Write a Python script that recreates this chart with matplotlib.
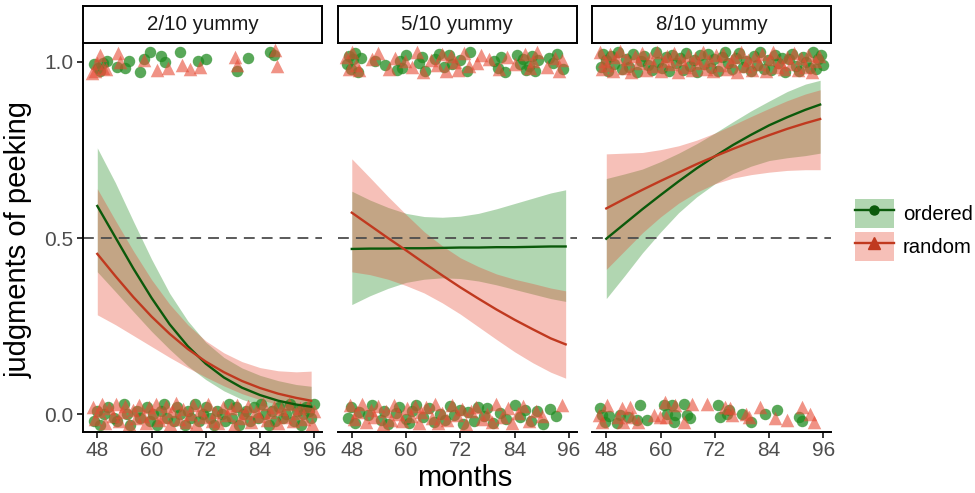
import matplotlib
matplotlib.use("Agg")
import matplotlib.pyplot as plt
from matplotlib.patches import Patch
from matplotlib.lines import Line2D

plt.rcParams['font.family'] = ['Liberation Sans', 'DejaVu Sans']

panels = ["2/10 yummy", "5/10 yummy", "8/10 yummy"]
conds = ["ordered", "random"]

# model fit (probability of "peeking" judgment) on a month grid, one row per panel
months = [48, 52, 56, 60, 64, 68, 72, 76, 80, 84, 88, 92, 95.3]

ord_fit = [
    [0.591, 0.502, 0.413, 0.330, 0.255, 0.193, 0.143, 0.104, 0.075, 0.054, 0.038, 0.027, 0.021],
    [0.469, 0.470, 0.470, 0.471, 0.471, 0.472, 0.473, 0.473, 0.474, 0.474, 0.475, 0.476, 0.476],
    [0.498, 0.540, 0.582, 0.622, 0.661, 0.698, 0.732, 0.764, 0.793, 0.820, 0.843, 0.864, 0.879],
]
ord_lo = [
    [0.404, 0.348, 0.291, 0.235, 0.184, 0.137, 0.098, 0.066, 0.042, 0.025, 0.015, 0.008, 0.005],
    [0.311, 0.336, 0.357, 0.374, 0.383, 0.387, 0.385, 0.378, 0.367, 0.354, 0.341, 0.328, 0.320],
    [0.328, 0.392, 0.458, 0.517, 0.572, 0.617, 0.654, 0.683, 0.704, 0.720, 0.728, 0.734, 0.741],
]
ord_hi = [
    [0.756, 0.657, 0.547, 0.440, 0.343, 0.265, 0.204, 0.161, 0.131, 0.110, 0.095, 0.084, 0.079],
    [0.633, 0.608, 0.587, 0.570, 0.561, 0.559, 0.562, 0.570, 0.583, 0.598, 0.613, 0.628, 0.637],
    [0.669, 0.682, 0.696, 0.717, 0.741, 0.768, 0.798, 0.830, 0.861, 0.889, 0.916, 0.937, 0.948],
]
rnd_fit = [
    [0.455, 0.392, 0.332, 0.277, 0.228, 0.185, 0.149, 0.119, 0.094, 0.074, 0.058, 0.046, 0.038],
    [0.572, 0.536, 0.500, 0.465, 0.429, 0.394, 0.360, 0.328, 0.297, 0.268, 0.241, 0.215, 0.198],
    [0.584, 0.611, 0.637, 0.662, 0.686, 0.710, 0.732, 0.753, 0.773, 0.792, 0.810, 0.826, 0.838],
]
rnd_lo = [
    [0.282, 0.254, 0.223, 0.192, 0.161, 0.132, 0.105, 0.080, 0.058, 0.041, 0.027, 0.017, 0.012],
    [0.404, 0.396, 0.383, 0.365, 0.344, 0.316, 0.284, 0.248, 0.212, 0.177, 0.146, 0.119, 0.102],
    [0.411, 0.463, 0.515, 0.560, 0.599, 0.630, 0.654, 0.670, 0.680, 0.687, 0.692, 0.694, 0.694],
]
rnd_hi = [
    [0.640, 0.550, 0.463, 0.382, 0.312, 0.254, 0.208, 0.174, 0.149, 0.132, 0.123, 0.120, 0.122],
    [0.725, 0.672, 0.618, 0.567, 0.518, 0.478, 0.444, 0.419, 0.398, 0.383, 0.371, 0.358, 0.350],
    [0.739, 0.741, 0.743, 0.751, 0.762, 0.778, 0.798, 0.821, 0.845, 0.868, 0.890, 0.909, 0.921],
]

# raw responses (jittered): x = age in months, dy = vertical jitter in hundredths
ord_top_x = [
    [47.3, 48.2, 48.6, 49.3, 50.2, 52.3, 54.1, 55.0, 57.4, 58.3, 59.7, 62.2, 63.0, 66.3, 70.2, 72.0,
     78.8, 81.4, 86.1, 87.1],
    [46.9, 47.3, 47.8, 48.2, 48.7, 49.4, 50.1, 53.2, 55.4, 57.9, 58.6, 59.2, 60.1, 62.8, 63.5, 64.3,
     66.5, 67.2, 68.3, 69.5, 70.2, 72.0, 73.4, 74.1, 79.4, 80.3, 81.0, 81.8, 84.6, 85.3, 85.9, 86.5,
     87.1, 87.8, 88.5, 89.2, 91.6, 92.4, 93.3, 94.8],
    [46.8, 47.3, 47.9, 48.4, 49.1, 49.8, 50.6, 51.5, 52.3, 53.0, 53.8, 54.9, 55.7, 56.4, 57.2, 58.0,
     58.9, 59.5, 60.3, 61.1, 61.8, 62.6, 63.5, 64.2, 65.0, 65.7, 66.5, 67.3, 68.1, 68.8, 69.6, 70.4,
     71.1, 71.9, 72.7, 73.5, 74.2, 75.0, 75.8, 76.7, 77.4, 78.2, 79.0, 79.9, 80.6, 81.4, 82.1, 82.9,
     83.7, 84.5, 85.3, 86.0, 86.8, 87.6, 88.4, 89.1, 89.9, 90.7, 91.4, 92.2, 93.0, 93.7, 94.3, 94.9,
     95.4, 95.9],
]
ord_top_dy = [
    [-0.6, -1.8, -2.5, -0.4, 0.3, -1.3, -1.6, 0.4, -2.8, 0.8, 2.8, 1.8, -0.1, 2.8, 0.3, 0.8,
     -2.5, 1.2, 2.9, 2.0],
    [-0.5, 1.8, -2.1, 0.9, 2.6, -2.8, 1.2, 0.3, -0.9, -2.2, 0.4, -1.7, 2.0, -0.3, 1.5, -2.5,
     0.8, 2.3, -1.3, 1.9, -0.7, 0.6, -2.6, 2.8, 0.2, -1.6, 1.4, -2.9, 2.1, -0.6, 0.9, -2.3,
     -1.2, 1.6, -2.7, 0.5, 1.2, -0.4, 2.2, -2.0],
    [-1.3, 2.4, 0.6, -2.7, 1.8, -0.5, 2.9, -2.0, 0.9, -1.5, 2.2, -2.8, 0.3, 1.6, -0.9, -2.4,
     2.7, 0.0, -1.8, 1.3, -2.6, 2.0, -0.2, 1.0, -2.2, 2.6, -1.1, 0.5, -2.9, 1.9, -0.6, 2.3,
     -1.7, 0.8, -2.5, 1.4, 2.8, -0.3, -2.1, 1.1, 2.5, -1.4, 0.2, -2.7, 1.7, -0.8, 2.9, -1.9,
     0.6, -2.3, 2.1, -0.4, 1.2, -2.8, 0.9, 2.4, -1.2, -2.6, 1.5, 0.1, -1.6, 2.7, -2.0, 0.7,
     1.9, -0.9],
]
ord_bot_x = [
    [47.2, 47.9, 48.6, 49.5, 50.3, 51.8, 52.4, 53.9, 54.6, 55.3, 56.8, 57.5, 58.9, 59.6, 60.4, 61.2,
     62.0, 62.7, 63.5, 64.9, 65.6, 66.3, 67.4, 68.0, 68.8, 69.7, 70.5, 71.3, 72.1, 73.0, 73.8, 74.5,
     75.6, 76.2, 77.1, 77.9, 78.6, 79.4, 80.3, 81.0, 81.8, 82.7, 83.5, 84.2, 85.0, 85.9, 86.6, 87.4,
     88.3, 89.1, 89.8, 90.7, 91.5, 92.2, 93.0, 93.6, 94.1, 94.8, 95.3, 95.9],
    [47.1, 47.9, 48.8, 49.7, 51.6, 52.5, 54.4, 55.2, 56.0, 57.7, 58.5, 59.9, 60.6, 61.4, 62.3, 63.7,
     65.0, 66.2, 67.5, 68.6, 69.8, 70.7, 71.9, 72.6, 73.8, 75.1, 76.0, 77.3, 78.0, 79.2, 80.8, 82.0,
     84.0, 85.1, 86.3, 87.6, 89.0, 90.4, 91.9, 93.1],
    [46.7, 47.1, 47.8, 48.5, 50.4, 51.1, 52.9, 54.8, 55.5, 57.0, 60.7, 61.4, 62.5, 63.3, 62.9, 65.1,
     65.8, 66.6, 72.8, 73.2, 74.7, 75.1, 78.0, 79.9, 83.2, 85.8, 90.6, 91.3],
]
ord_bot_dy = [
    [-2.0, 1.0, -3.0, 0.0, 2.0, -1.0, -2.0, 3.0, 0.0, -3.0, 1.0, -1.0, 2.0, -2.0, 0.0, -3.0,
     1.0, 3.0, -1.0, -2.0, 2.0, 0.0, -3.0, 1.0, -1.0, 3.0, -2.0, 0.0, 2.0, -1.0, -3.0, 1.0,
     0.0, -2.0, 3.0, -1.0, 2.0, -3.0, 0.0, 1.0, -2.0, 2.0, -1.0, 3.0, 0.0, -3.0, 1.0, -2.0,
     2.0, -1.0, 0.0, 3.0, -2.0, 1.0, -3.0, 0.0, 2.0, 1.0, -1.0, 3.0],
    [-1.1, 1.9, -2.4, 0.7, -0.2, 2.5, -1.8, 1.0, -2.9, 0.4, 2.1, -1.4, -2.6, 0.9, 2.7, -0.9,
     1.6, -2.2, 0.1, -1.6, 2.4, -0.3, 1.3, -2.8, 0.6, -1.9, 2.0, -0.6, 1.8, -2.5, 0.2, -1.3,
     2.6, -0.8, 1.1, -2.1, 0.8, -2.7, 1.5, -0.4],
    [1.6, -0.3, -2.2, -0.6, -2.5, -0.3, -0.8, -1.7, 2.6, -1.7, 2.6, 0.1, 2.6, -0.3, -2.2, 3.0,
     -0.3, -1.0, 2.6, -0.8, 0.1, 1.1, 0.1, -2.2, 0.0, 1.1, -0.8, -1.9],
]
rnd_top_x = [
    [47.5, 48.6, 47.9, 49.3, 49.9, 52.6, 53.0, 58.3, 61.1, 63.7, 66.7, 68.5, 70.7, 78.5, 78.8, 87.3,
     87.7, 46.8],
    [46.8, 47.4, 48.0, 48.9, 49.6, 52.4, 53.9, 56.2, 57.6, 59.8, 61.3, 62.5, 63.8, 65.6, 66.9, 67.9,
     68.8, 69.9, 70.9, 71.6, 72.8, 73.9, 75.8, 76.5, 78.4, 80.6, 82.3, 84.2, 86.2, 87.4, 88.1, 88.9,
     91.1, 92.9, 93.8, 94.6],
    [46.5, 47.0, 47.6, 48.2, 48.8, 49.5, 50.2, 51.0, 51.9, 52.6, 53.4, 54.3, 55.1, 56.0, 56.8, 57.6,
     58.4, 59.2, 60.0, 60.8, 61.5, 62.3, 63.0, 63.8, 64.6, 65.3, 66.1, 66.9, 67.7, 68.5, 69.3, 70.0,
     70.8, 71.6, 72.3, 73.1, 73.9, 74.7, 75.5, 76.3, 77.0, 77.8, 78.6, 79.4, 80.2, 81.0, 81.7, 82.5,
     83.3, 84.1, 84.9, 85.7, 86.4, 87.2, 88.0, 88.8, 89.6, 90.3, 91.1, 91.9, 92.6, 93.4, 94.1, 95.0],
]
rnd_top_dy = [
    [-2.7, 2.0, -0.4, -1.8, -2.1, 2.5, 0.1, 0.6, -2.3, -1.8, -0.9, -2.1, -1.3, 1.5, -0.9, 3.4,
     -1.1, -3.0],
    [1.4, -1.9, 2.9, -0.8, -2.4, 0.7, 2.5, -2.0, 1.1, 0.2, -1.5, 2.7, -2.8, 0.6, -1.0, 2.2,
     -2.6, 1.7, 0.0, -2.3, 2.6, -1.2, -0.4, 1.9, 0.8, -2.1, 1.5, -0.6, 2.4, -1.8, 0.3, 2.9,
     -1.4, 1.0, -2.5, 0.5],
    [2.8, -2.1, 0.4, -0.9, 2.2, -2.7, 1.3, 3.0, -1.6, 0.7, -2.9, 1.8, -0.3, 2.5, -2.2, 1.0,
     -1.1, 2.9, -2.5, 0.2, 1.6, -0.7, 2.6, -2.8, 0.9, -1.4, 2.0, -2.4, 1.2, -0.2, 2.8, -1.9,
     0.5, -2.6, 1.9, -0.8, 2.4, -2.1, 0.3, 1.4, -2.9, 2.7, -1.2, 0.6, -2.3, 1.7, -0.5, 2.3,
     -2.7, 0.8, 2.9, -1.5, 0.1, -2.0, 1.5, -0.6, 2.6, -2.4, 1.1, -1.3, 2.1, -2.8, 0.4, 1.8],
]
rnd_bot_x = [
    [47.0, 47.6, 48.3, 49.0, 49.8, 50.7, 51.4, 52.1, 52.9, 53.4, 54.2, 55.0, 55.9, 56.5, 57.2, 58.1,
     58.7, 59.4, 60.2, 61.0, 61.7, 62.5, 63.2, 64.0, 64.6, 65.4, 66.1, 66.9, 67.7, 68.4, 69.2, 69.9,
     70.8, 71.6, 72.5, 73.3, 74.0, 74.8, 75.9, 76.6, 77.5, 78.2, 79.0, 79.8, 80.6, 81.4, 82.1, 83.0,
     83.8, 84.6, 85.5, 86.2, 87.0, 87.9, 88.7, 89.5, 90.3, 91.2, 92.0, 92.8, 93.7, 94.5, 95.4, 96.0],
    [47.5, 48.4, 49.2, 50.3, 51.1, 52.2, 53.0, 53.7, 54.8, 55.6, 56.7, 57.3, 58.2, 59.1, 60.3, 61.0,
     61.9, 62.8, 63.4, 64.5, 65.7, 66.4, 67.1, 68.0, 69.1, 70.1, 71.2, 72.3, 73.2, 74.4, 75.5, 76.9,
     77.8, 79.0, 80.0, 81.3, 82.6, 83.4, 84.8, 85.8, 87.3, 88.8, 90.0, 94.6],
    [48.2, 47.1, 51.5, 53.3, 53.7, 55.1, 58.5, 61.0, 61.1, 63.3, 65.1, 67.0, 70.3, 74.3, 75.4, 75.8,
     78.8, 79.5, 82.1, 85.4, 88.0, 91.3, 93.1, 93.9, 51.8, 50.7, 59.9, 46.3],
]
rnd_bot_dy = [
    [2.1, -1.5, 0.8, 2.9, -2.6, 1.7, -0.4, 3.0, -2.0, 0.5, 2.4, -2.9, 1.1, -1.2, 2.7, -0.6,
     -2.4, 1.9, 0.2, 2.8, -1.8, -0.9, 2.2, -2.7, 0.9, 3.1, -1.4, 1.5, -2.2, 0.1, 2.5, -2.8,
     1.2, -0.7, 2.9, -1.9, 0.6, -2.5, 2.0, -0.2, 1.6, -3.0, 2.6, -1.1, 0.4, 2.3, -2.3, 1.0,
     -0.5, 3.0, -1.6, 0.7, 2.1, -2.6, 1.4, -0.8, 2.8, -2.1, 0.3, 1.8, -1.3, 2.4, -2.9, 0.9],
    [2.6, -1.4, 0.5, 2.9, -2.3, 1.2, -0.7, 2.2, -2.8, 0.9, -1.6, 2.7, 0.1, -2.0, 1.6, -0.4,
     2.4, -2.6, 0.7, 1.9, -1.1, 2.8, -2.4, 0.3, -1.7, 2.5, -0.2, 1.4, -2.9, 0.8, 2.1, -1.3,
     0.0, -2.2, 2.9, -0.9, 1.7, -2.5, 0.4, 2.3, -1.9, 1.0, -0.5, 2.6],
    [2.6, -2.2, 1.6, 2.1, -0.8, -2.2, -0.3, 3.5, -0.8, 2.6, -2.2, 3.0, 3.0, 2.1, 1.6, -0.3,
     0.1, -0.8, 2.1, -1.2, -1.7, 2.1, 0.1, -2.2, -2.2, -0.8, -0.8, -0.3],
]

x_ticks = [48, 60, 72, 84, 96]
y_ticks = [0.0, 0.5, 1.0]

green_fill = "#228B22"
green_line = "#0B5A0B"
red_fill = "#E64B35"
red_line = "#C0391F"

W, H = 975, 493
fig = plt.figure(figsize=(W / 100, H / 100), dpi=100)

lefts = [83, 337.5, 592]
pw = 239
p_top, p_bot = 43.3, 431.7

for i in range(3):
    ax = fig.add_axes([lefts[i] / W, 1 - p_bot / H, pw / W, (p_bot - p_top) / H])

    ax.fill_between(months, ord_lo[i], ord_hi[i], color=green_fill, alpha=0.35, lw=0, zorder=1)
    ax.fill_between(months, rnd_lo[i], rnd_hi[i], color=red_fill, alpha=0.35, lw=0, zorder=1)

    ax.axhline(0.5, color="#4D4D4D", lw=1.3, ls=(0, (6, 3.9)), zorder=1.5)

    for xs, dys, lev in [(ord_top_x[i], ord_top_dy[i], 1.0), (ord_bot_x[i], ord_bot_dy[i], 0.0)]:
        ax.scatter(xs, [lev + d / 100 for d in dys], s=68, marker="o", color=green_fill,
                   alpha=0.75, linewidths=0, zorder=2)
    for xs, dys, lev in [(rnd_top_x[i], rnd_top_dy[i], 1.0), (rnd_bot_x[i], rnd_bot_dy[i], 0.0)]:
        ax.scatter(xs, [lev + d / 100 for d in dys], s=95, marker="^", color=red_fill,
                   alpha=0.6, linewidths=0, zorder=2)

    ax.plot(months, ord_fit[i], color=green_line, lw=1.7, zorder=3)
    ax.plot(months, rnd_fit[i], color=red_line, lw=1.7, zorder=3)

    ax.set_xlim(44.84, 97.7)
    ax.set_ylim(-0.050, 1.053)
    ax.set_xticks(x_ticks)
    ax.set_xticklabels([str(t) for t in x_ticks])
    ax.tick_params(axis="both", length=4, width=1.1, color="black",
                   labelsize=15, labelcolor="#4D4D4D", pad=3)
    for s in ["top", "right"]:
        ax.spines[s].set_visible(False)
    ax.spines["bottom"].set_linewidth(1.4)
    ax.spines["left"].set_linewidth(1.4)
    if i == 0:
        ax.set_yticks(y_ticks)
        ax.set_yticklabels(["0.0", "0.5", "1.0"])
    else:
        ax.spines["left"].set_visible(False)
        ax.set_yticks([])

    # facet strip
    sax = fig.add_axes([lefts[i] / W, 1 - p_top / H, pw / W, 37.3 / H])
    sax.set_xticks([])
    sax.set_yticks([])
    for s in sax.spines.values():
        s.set_linewidth(1.4)
    sax.text(0.5, 0.5, panels[i], ha="center", va="center", fontsize=14.8,
             color="#1A1A1A", transform=sax.transAxes)

fig.text(465 / W, 1 - 478 / H, "months", ha="center", va="center", fontsize=21)
fig.text(19 / W, 1 - 240 / H, "judgments of peeking", ha="center", va="center",
         rotation=90, fontsize=21)

handles = [
    (Patch(facecolor=green_fill, alpha=0.35, edgecolor="none"),
     Line2D([], [], color=green_line, lw=1.7, marker="o", ms=6.5)),
    (Patch(facecolor=red_fill, alpha=0.35, edgecolor="none"),
     Line2D([], [], color=red_line, lw=1.7, marker="^", ms=8)),
]
fig.legend(handles, conds, loc="upper left", bbox_to_anchor=(855 / W, 1 - 199 / H),
           frameon=False, fontsize=14.6, handlelength=1.9, handleheight=1.83,
           labelspacing=0.2, handletextpad=0.45, borderpad=0, borderaxespad=0)

fig.savefig("out.png", dpi=100)
